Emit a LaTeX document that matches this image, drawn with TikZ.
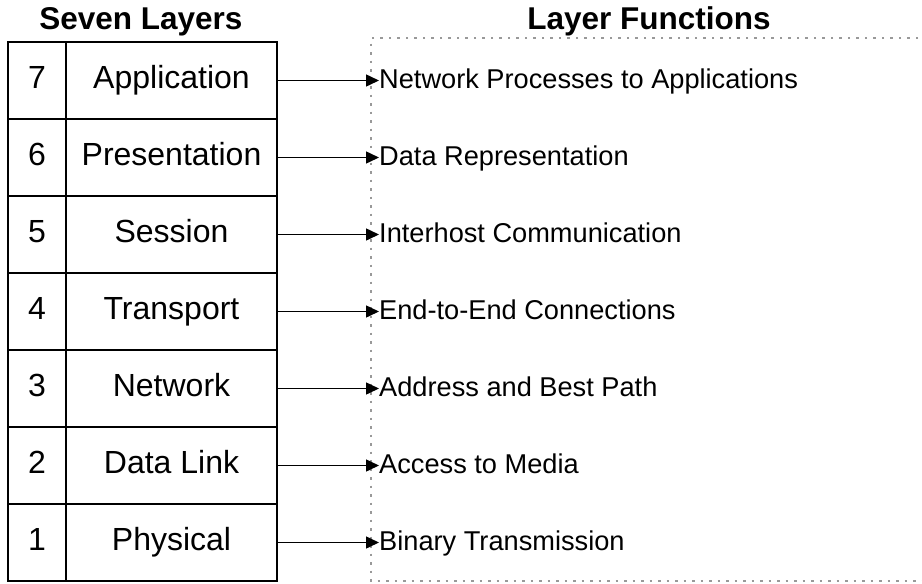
\documentclass[tikz,border=0pt]{standalone}
\usepackage{fontspec}
\setmainfont{Liberation Sans}
\usetikzlibrary{arrows.meta}
\tikzset{
  numcell/.style={draw=black, line width=1.5pt, minimum width=58pt, minimum height=77pt, inner sep=0pt, text height=22pt, text depth=6pt, anchor=center, font=\fontsize{32}{32}\selectfont},
  namecell/.style={draw=black, line width=1.5pt, minimum width=211pt, minimum height=77pt, inner sep=0pt, text height=22pt, text depth=6pt, anchor=center, font=\fontsize{32}{32}\selectfont},
  functext/.style={anchor=west, inner sep=0pt, text height=20pt, text depth=5pt, font=\fontsize{27.2}{27.2}\selectfont},
  title/.style={anchor=base, inner sep=0pt, font=\bfseries\fontsize{31.5}{31.5}\selectfont},
  conn/.style={line width=1.5pt, -{Triangle[length=13pt,width=12pt]}},
  fnbox/.style={draw=black!40, line width=2pt, dash pattern=on 2.5pt off 6pt}
}
\begin{document}
\begin{tikzpicture}[x=1pt,y=-1pt]
\useasboundingbox (0,0) rectangle (922,584);
\node[title] (t1) at (141,29) {Seven Layers};
\node[title] (t2) at (649,29) {Layer Functions};
\draw[fnbox] (935,38) -- (371,38) -- (371,581) -- (935,581);
\foreach \n/\name/\func [count=\i from 0] in {7/Application/Network Processes to Applications,6/Presentation/Data Representation,5/Session/Interhost Communication,4/Transport/End-to-End Connections,3/Network/Address and Best Path,2/Data Link/Access to Media,1/Physical/Binary Transmission}{
  \node[numcell] (num\n) at (37,{80.5+77*\i}) {\n};
  \node[namecell] (name\n) at (171.5,{80.5+77*\i}) {\name};
  \node[functext] (func\n) at (379,{80.5+77*\i}) {\func};
  \draw[conn] (name\n.east) -- (func\n.west);
}
\end{tikzpicture}
\end{document}
